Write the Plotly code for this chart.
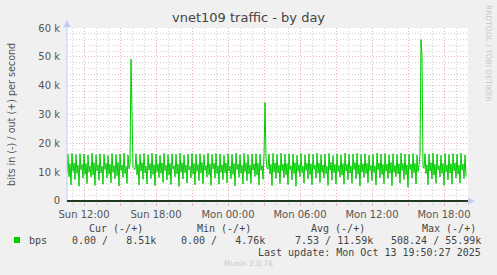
import pandas as pd
import plotly.graph_objects as go

# ---------------- data ----------------
start_time = "2025-10-12 10:35"
step = "5min"

# out (+) traffic, kbit/s, one value per 5 minutes
out_kbps = [
    9.8, 16.2, 8.4, 12.9, 5.6, 16.5, 10.3, 13.2, 7.4, 16.1, 9.6, 12.4, 5.1, 16.4, 10.8, 12.7,
    7.9, 16.3, 9.2, 13.0, 6.0, 15.9, 10.1, 12.2, 8.3, 16.6, 9.0, 13.3, 5.4, 16.0, 10.5, 12.6,
    7.2, 16.4, 9.7, 12.1, 5.8, 16.2, 10.9, 13.1, 8.0, 15.8, 9.3, 12.8, 6.3, 16.5, 10.0, 12.3,
    7.7, 16.1, 8.8, 13.4, 5.2, 16.3, 10.6, 12.5, 8.2, 16.6, 9.5, 12.0, 6.1, 15.9, 11.2, 12.9,
    49.2, 22.0, 11.6, 11.2, 10.9, 16.4, 9.1, 12.7, 5.5, 16.2, 10.4, 13.3, 7.5, 16.5, 9.8, 12.1,
    5.9, 16.0, 10.7, 13.0, 7.8, 16.6, 9.2, 12.6, 5.3, 16.3, 10.2, 12.9, 8.1, 15.8, 9.6, 13.2,
    6.4, 16.5, 10.5, 12.4, 7.3, 16.1, 9.0, 13.1, 5.7, 16.4, 11.0, 12.2, 8.4, 16.2, 9.4, 12.8,
    5.0, 16.6, 10.1, 13.3, 7.6, 15.9, 9.9, 12.5, 6.2, 16.3, 10.8, 12.0, 8.0, 16.5, 9.3, 13.0,
    5.6, 16.2, 10.3, 12.7, 7.1, 16.4, 9.7, 13.4, 6.0, 16.0, 10.6, 12.3, 8.3, 16.6, 9.1, 12.9,
    5.4, 16.1, 11.1, 13.1, 7.9, 16.5, 9.5, 12.2, 5.8, 16.3, 10.0, 12.6, 7.4, 15.8, 9.8, 13.2,
    6.3, 16.4, 10.4, 12.1, 7.7, 16.2, 9.2, 13.0, 5.2, 16.6, 10.9, 12.8, 8.2, 16.0, 9.6, 12.4,
    5.9, 16.5, 10.2, 13.3, 7.0, 16.1, 9.4, 12.5, 6.1, 16.3, 10.7, 12.9, 8.5, 16.4, 9.0, 13.1,
    5.5, 16.2, 10.6, 12.3, 7.5, 16.0, 34.2, 15.0, 11.4, 11.0, 16.3, 9.3, 12.7, 5.3, 16.5, 10.1,
    13.2, 7.8, 16.1, 9.7, 12.4, 6.0, 16.6, 10.5, 12.8, 8.1, 16.2, 9.1, 13.0, 5.7, 16.4, 10.8,
    12.2, 7.3, 16.3, 9.5, 13.3, 5.1, 15.9, 10.3, 12.6, 8.4, 16.5, 9.9, 12.1, 6.2, 16.0, 10.6,
    13.1, 7.6, 16.4, 9.2, 12.9, 5.6, 16.2, 11.0, 12.4, 7.9, 16.6, 9.6, 13.2, 6.4, 16.1, 10.0,
    12.5, 8.0, 16.3, 9.4, 12.0, 5.4, 16.5, 10.7, 13.4, 7.2, 15.8, 9.8, 12.7, 5.9, 16.4, 10.2,
    12.3, 8.3, 16.0, 9.0, 13.0, 5.8, 16.6, 10.4, 12.8, 7.4, 16.2, 9.7, 12.2, 6.1, 16.3, 10.9,
    13.3, 7.7, 16.5, 9.3, 12.6, 5.2, 16.1, 10.1, 12.9, 8.2, 16.4, 9.5, 13.1, 6.3, 15.9, 10.5,
    12.4, 7.1, 16.2, 9.9, 12.1, 5.5, 16.6, 10.8, 13.2, 8.0, 16.3, 9.2, 12.7, 6.0, 16.5, 10.3,
    12.8, 7.8, 16.0, 9.6, 13.4, 5.3, 16.4, 10.0, 12.3, 8.4, 16.1, 9.4, 12.9, 6.2, 16.6, 10.6,
    13.0, 7.5, 16.3, 9.1, 12.5, 4.76, 16.2, 10.9, 12.8, 7.9, 16.5, 9.8, 13.1, 5.9, 16.0, 10.2,
    12.2, 16.1, 55.99, 50.5, 11.8, 11.3, 16.4, 9.5, 12.6, 5.6, 16.2, 10.4, 13.3, 7.6, 16.6, 9.0,
    12.7, 6.1, 16.3, 10.8, 12.2, 8.3, 15.9, 9.6, 13.0, 5.4, 16.5, 10.1, 12.5, 7.3, 16.1, 9.7,
    12.9, 5.8, 16.4, 10.5, 13.2, 8.0, 16.2, 9.3, 12.4, 6.2, 16.6, 10.7, 12.8, 7.7, 16.0, 8.51,
]

# in (-) traffic, bit/s: zero except a few small bursts (index -> value)
in_bursts = {33: 300.0, 64: 508.24, 99: 250.0, 198: 400.0, 354: 450.0}

y_tick_vals = [0, 10000, 20000, 30000, 40000, 50000, 60000]
y_tick_text = ["0", "10 k", "20 k", "30 k", "40 k", "50 k", "60 k"]

x_major = ["2025-10-12 12:00", "2025-10-12 15:00", "2025-10-12 18:00", "2025-10-12 21:00",
           "2025-10-13 00:00", "2025-10-13 03:00", "2025-10-13 06:00", "2025-10-13 09:00",
           "2025-10-13 12:00", "2025-10-13 15:00", "2025-10-13 18:00"]
x_major_text = ["Sun 12:00", "", "Sun 18:00", "", "Mon 00:00", "", "Mon 06:00", "",
                "Mon 12:00", "", "Mon 18:00"]

title = "vnet109 traffic - by day"
y_title = "bits in (-) / out (+) per second"
legend_headers = ["Cur (-/+)", "Min (-/+)", "Avg (-/+)", "Max (-/+)"]
legend_name = "bps"
legend_values = ["0.00 /   8.51k", "0.00 /   4.76k", "7.53 / 11.59k", "508.24 / 55.99k"]
last_update = "Last update: Mon Oct 13 19:50:27 2025"
watermark = "RRDTOOL / TOBI OETIKER"
footer = "Munin 2.0.76"

# ---------------- figure ----------------
times = pd.date_range(start_time, periods=len(out_kbps), freq=step)
out_bps = [v * 1000 for v in out_kbps]
in_bps = [-in_bursts.get(i, 0.0) for i in range(len(out_kbps))]

W, H = 497, 275
L, R, T, B = 67, 468, 28, 202


def xp(px):
    return (px - L) / (R - L)


def yp(py):
    return (B - py) / (B - T)


GREEN = "#00CC00"
MONO = "DejaVu Sans Mono"
SANS = "DejaVu Sans"

fig = go.Figure()
fig.add_trace(go.Scatter(x=times, y=in_bps, mode="lines",
                         line=dict(color=GREEN, width=1), hoverinfo="skip"))
fig.add_trace(go.Scatter(x=times, y=out_bps, mode="lines",
                         line=dict(color=GREEN, width=1), hoverinfo="skip"))

MGRID = "#e6b3b3"
GRID = "#d4d4d4"

fig.update_xaxes(
    range=["2025-10-12 10:35", "2025-10-13 20:00"],
    tickmode="array", tickvals=x_major, ticktext=x_major_text,
    showgrid=True, gridcolor=MGRID, griddash="1px,2px", gridwidth=1,
    ticks="outside", ticklen=3, tickcolor=MGRID, tickwidth=1,
    minor=dict(dtick=3600000, tick0="2025-10-12 00:00", showgrid=True,
               gridcolor=GRID, griddash="1px,2px", gridwidth=1,
               ticks="outside", ticklen=2, tickcolor=GRID),
    tickfont=dict(family=SANS, size=10, color="#555555"),
    showline=False, zeroline=False,
)
fig.update_yaxes(
    range=[-350, 60000],
    tickmode="array", tickvals=y_tick_vals, ticktext=y_tick_text,
    showgrid=True, gridcolor=MGRID, griddash="1px,2px", gridwidth=1,
    minor=dict(dtick=2000, tick0=0, showgrid=True, gridcolor=GRID,
               griddash="1px,2px", gridwidth=1),
    ticks="", ticklabelstandoff=6,
    tickfont=dict(family=SANS, size=10, color="#555555"),
    showline=False, zeroline=False,
)

AXIS = "#c3c9f5"
shapes = [
    # y axis line with arrow
    dict(type="line", xref="paper", yref="paper", x0=0, x1=0, y0=yp(202), y1=yp(23),
         line=dict(color=AXIS, width=1), layer="above"),
    dict(type="path", xref="paper", yref="paper",
         path=f"M {xp(63.5)} {yp(27)} L {xp(70.5)} {yp(27)} L {xp(67)} {yp(20)} Z",
         fillcolor=AXIS, line=dict(width=0), layer="above"),
    # x axis arrow
    dict(type="path", xref="paper", yref="paper",
         path=f"M {xp(468)} {yp(197.5)} L {xp(468)} {yp(204.5)} L {xp(475)} {yp(201)} Z",
         fillcolor=AXIS, line=dict(width=0), layer="above"),
    # zero line
    dict(type="line", xref="paper", yref="y", x0=0, x1=1, y0=0, y1=0,
         line=dict(color="#000000", width=1.3), layer="above"),
    # legend colour box
    dict(type="rect", xref="paper", yref="paper", x0=xp(14), x1=xp(20),
         y0=yp(243), y1=yp(237), fillcolor=GREEN, line=dict(width=0)),
]

ann = []


def text(px, py, s, size=10, family=MONO, color="#333333", xanchor="left", angle=0):
    ann.append(dict(x=xp(px), y=yp(py), xref="paper", yref="paper", text=s,
                    showarrow=False, xanchor=xanchor, yanchor="middle",
                    textangle=angle, font=dict(family=family, size=size, color=color)))


text(248, 18, title, size=13, family=SANS, color="#444444", xanchor="center")
text(11, 115, y_title, size=9.6, family=SANS, color="#555555", xanchor="center", angle=-90)
text(489, 53, watermark, size=7.5, family=SANS, color="#c8c8c8", xanchor="center", angle=90)

for s, cx in zip(legend_headers, [116, 224, 338, 449]):
    text(cx, 228, s, color="#444444", xanchor="center")
text(27, 240, legend_name, color="#444444")
for s, rx in zip(legend_values, [158, 267, 375, 483]):
    text(rx, 240, s.replace(" ", "&nbsp;"), color="#444444", xanchor="right")
text(483, 252, last_update, color="#444444", xanchor="right")
text(248, 263, footer, size=7.5, family=SANS, color="#c8c8c8", xanchor="center")

fig.update_layout(
    width=W, height=H,
    margin=dict(l=L, r=W - R, t=T, b=H - B, pad=0),
    paper_bgcolor="#F0F0F0", plot_bgcolor="#FFFFFF",
    showlegend=False, shapes=shapes, annotations=ann,
)

fig.write_html("out.html")
